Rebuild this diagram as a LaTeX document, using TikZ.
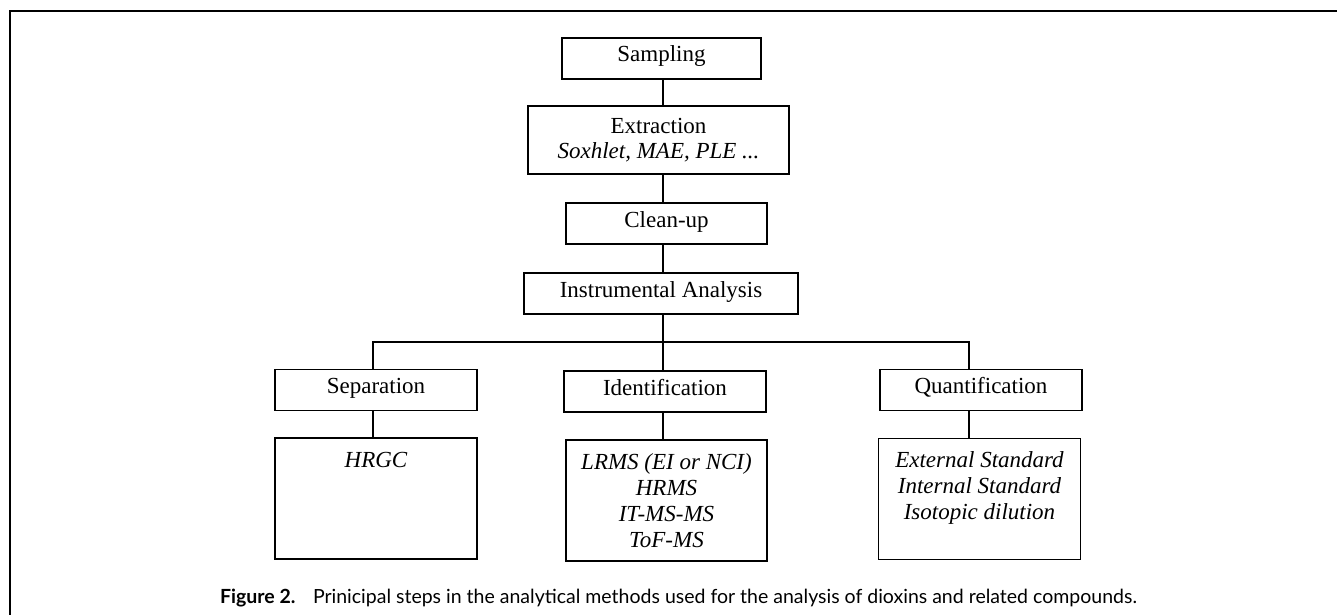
\documentclass[tikz,border=0pt]{standalone}
\usepackage{fontspec}
\setmainfont{Liberation Serif}
\newfontfamily\capfont{Lato}
\usetikzlibrary{calc}
\def\listtext#1{\parbox[c][121pt][t]{198pt}{\centering\rule{0pt}{29pt}#1}}

\begin{document}
\begin{tikzpicture}[x=1pt, y=-1pt,
    box/.style={draw, line width=1.1pt, inner sep=0pt, font=\fontsize{23}{25}\selectfont},
    stage/.style={box, minimum height=41pt, text height=14pt, text depth=7pt},
    listbox/.style={box, minimum width=202pt, minimum height=121pt,
      font=\fontsize{23}{26}\selectfont\itshape},
    link/.style={line width=1.1pt}]
	%%%%% START %%%%%
	\useasboundingbox (0,0) rectangle (1337,615);
	
	\draw[line width=2pt] (10,615) -- (10,11) -- (1337,11);
	
	\coordinate (trunk) at (663,0);
	\coordinate (sepdrop) at (373,342);
	\coordinate (quantdrop) at (969,342);
	
	\node[stage, minimum width=199pt] (sampling) at (661.5,58.5) {Sampling};
	\node[box, minimum width=261pt, minimum height=68pt, align=center] (extraction) at (658.5,140)
	  {Extraction\\\textit{Soxhlet, MAE, PLE ...}};
	\node[stage, minimum width=201pt] (cleanup) at (666.5,223.5) {Clean-up};
	\node[stage, minimum width=274pt] (instr) at (661,293.5) {Instrumental Analysis};
	
	\node[stage, minimum width=202pt] (separation) at (376,390) {Separation};
	\node[stage, minimum width=202pt] (identification) at (665,391.5) {Identification};
	\node[stage, minimum width=202pt] (quantification) at (981,390) {Quantification};
	
	\node[listbox] (hrgc) at (376,498.5) {\listtext{HRGC}};
	\node[listbox, minimum width=201pt] (msdet) at (666.5,500.5)
	  {\listtext{LRMS (EI or NCI)\\HRMS\\IT-MS-MS\\ToF-MS}};
	\node[listbox] (calib) at (979.5,499)
	  {\listtext{External Standard\\Internal Standard\\Isotopic dilution}};
	
	\draw[link] (trunk |- sampling.south) -- (trunk |- extraction.north);
	\draw[link] (trunk |- extraction.south) -- (trunk |- cleanup.north);
	\draw[link] (trunk |- cleanup.south) -- (trunk |- instr.north);
	\draw[link] (trunk |- instr.south) -- (trunk |- identification.north);
	\draw[link] (sepdrop |- separation.north) -- (sepdrop) -- (quantdrop) -- (quantdrop |- quantification.north);
	
	\draw[link] (sepdrop |- separation.south) -- (sepdrop |- hrgc.north);
	\draw[link] (trunk |- identification.south) -- (trunk |- msdet.north);
	\draw[link] (quantdrop |- quantification.south) -- (quantdrop |- calib.north);
	
	\node[font=\capfont\fontsize{19.5}{22}\selectfont, anchor=base] (caption) at (678.5,603)
	  {\textbf{Figure 2.}\hspace{0.9em}Prinicipal steps in the analytical methods used for the analysis of dioxins and related compounds.};
	%%%%% END %%%%%
\end{tikzpicture}
\end{document}
